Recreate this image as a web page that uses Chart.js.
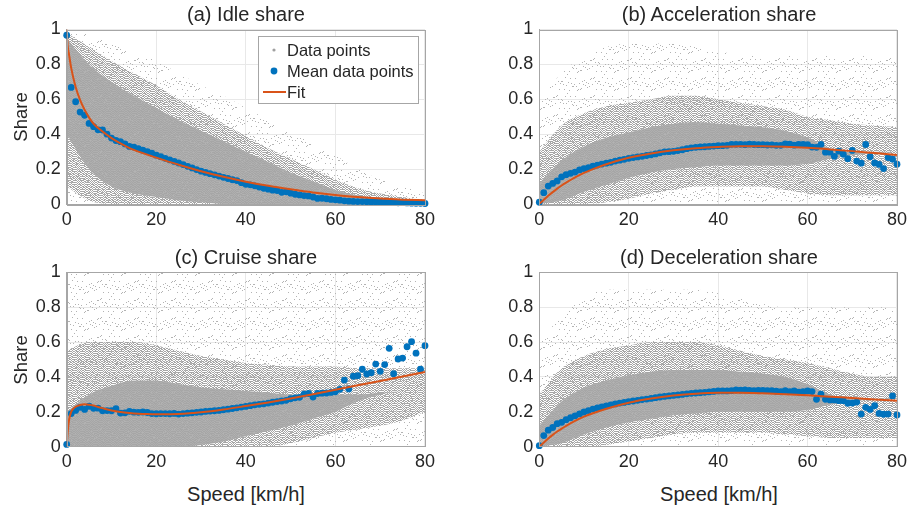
<!DOCTYPE html>
<html>
<head>
<meta charset="utf-8">
<script src="https://cdn.jsdelivr.net/npm/chart.js@4.4.1/dist/chart.umd.min.js"></script>
<style>
  body { margin: 0; background: #fff; font-family: "Liberation Sans", Arial, sans-serif; color: #262626; }
  #wrap { position: relative; width: 912px; height: 510px; overflow: hidden; }
  canvas { position: absolute; }
  .ttl { position: absolute; font-size: 20px; white-space: nowrap; transform: translate(-50%, -50%); }
  .ylab { position: absolute; font-size: 18.5px; white-space: nowrap; transform: translate(-50%, -50%) rotate(-90deg); }
  #legend { position: absolute; left: 258px; top: 36px; width: 161px; height: 68px; border: 1px solid #a6a6a6; background: #fff; box-sizing: border-box; }
  .li { position: absolute; left: 28px; font-size: 16.5px; white-space: nowrap; transform: translateY(-50%); }
</style>
</head>
<body>
<div id="wrap">
  <canvas id="chartIdle" width="440" height="240" style="left:0;top:0"></canvas>
  <canvas id="chartAccel" width="456" height="240" style="left:456px;top:0"></canvas>
  <canvas id="chartCruise" width="440" height="240" style="left:0;top:240px"></canvas>
  <canvas id="chartDecel" width="456" height="240" style="left:456px;top:240px"></canvas>

  <div class="ttl" style="left:246px;top:14px">(a) Idle share</div>
  <div class="ttl" style="left:719px;top:14px">(b) Acceleration share</div>
  <div class="ttl" style="left:246px;top:257px">(c) Cruise share</div>
  <div class="ttl" style="left:719px;top:257px">(d) Deceleration share</div>

  <div class="ylab" style="left:21px;top:117px">Share</div>
  <div class="ylab" style="left:21px;top:360px">Share</div>
  <div class="ttl" style="left:246px;top:494px">Speed [km/h]</div>
  <div class="ttl" style="left:719px;top:494px">Speed [km/h]</div>

  <div id="legend">
    <canvas id="legendMarks" width="30" height="66" style="left:0;top:0"></canvas>
    <div class="li" style="top:13px">Data points</div>
    <div class="li" style="top:34px">Mean data points</div>
    <div class="li" style="top:55px">Fit</div>
  </div>
</div>

<script>
// speed bins of the mean data points (km/h)
const speeds = [0,1,2,3,4,5,6,7,8,9,10,11,12,13,14,15,16,17,18,19,20,21,22,23,24,25,26,27,28,29,30,
  31,32,33,34,35,36,37,38,39,40,41,42,43,44,45,46,47,48,49,50,51,52,53,54,55,56,57,58,59,60,
  61,62,63,64,65,66,67,68,69,70,71,72,73,74,75,76,77,78,79,80];

// mean shares per speed bin
const idleMean = [0.967,0.668,0.586,0.527,0.508,0.462,0.443,0.425,0.424,0.400,0.378,0.364,0.357,0.344,0.330,0.326,0.317,0.308,0.300,0.291,
  0.280,0.271,0.262,0.253,0.244,0.235,0.226,0.216,0.207,0.197,0.188,0.181,0.174,0.167,0.160,0.153,0.146,0.139,0.134,0.122,
  0.113,0.110,0.104,0.097,0.090,0.085,0.079,0.077,0.067,0.070,0.062,0.056,0.052,0.048,0.046,0.040,0.032,0.033,0.030,0.026,
  0.024,0.022,0.018,0.016,0.015,0.014,0.014,0.013,0.012,0.012,0.010,0.009,0.008,0.008,0.007,0.012,0.006,0.005,0.004,0.004,0.003];
const accelMean = [0.010,0.065,0.103,0.118,0.132,0.156,0.168,0.176,0.183,0.195,0.203,0.208,0.217,0.223,0.229,0.234,0.239,0.246,0.251,0.256,
  0.262,0.266,0.270,0.273,0.278,0.282,0.287,0.293,0.299,0.300,0.302,0.306,0.311,0.317,0.322,0.325,0.327,0.328,0.330,0.332,
  0.334,0.334,0.336,0.342,0.342,0.342,0.340,0.343,0.341,0.340,0.340,0.338,0.339,0.336,0.336,0.344,0.343,0.337,0.342,0.342,
  0.340,0.326,0.325,0.341,0.297,0.297,0.273,0.303,0.285,0.260,0.307,0.246,0.234,0.341,0.271,0.235,0.227,0.203,0.266,0.257,0.228];
const cruiseMean = [0.013,0.190,0.208,0.226,0.214,0.232,0.220,0.221,0.206,0.207,0.206,0.218,0.193,0.194,0.203,0.198,0.197,0.199,0.196,0.190,
  0.189,0.190,0.190,0.189,0.191,0.187,0.190,0.192,0.194,0.197,0.199,0.202,0.204,0.206,0.208,0.212,0.215,0.219,0.223,0.227,
  0.231,0.235,0.240,0.243,0.246,0.250,0.255,0.259,0.262,0.266,0.275,0.280,0.283,0.302,0.305,0.285,0.305,0.307,0.308,0.311,
  0.315,0.329,0.382,0.331,0.404,0.407,0.444,0.417,0.424,0.474,0.432,0.471,0.564,0.419,0.503,0.508,0.573,0.602,0.536,0.444,0.579];
const decelMean = [0.006,0.064,0.095,0.110,0.132,0.140,0.155,0.166,0.177,0.188,0.199,0.207,0.216,0.222,0.228,0.234,0.240,0.245,0.250,0.254,
  0.259,0.262,0.266,0.270,0.273,0.277,0.281,0.285,0.288,0.291,0.294,0.297,0.300,0.303,0.306,0.308,0.310,0.312,0.314,0.317,
  0.320,0.320,0.320,0.321,0.325,0.324,0.325,0.323,0.322,0.323,0.323,0.321,0.322,0.318,0.315,0.322,0.316,0.320,0.313,0.315,
  0.320,0.316,0.272,0.302,0.272,0.268,0.268,0.264,0.264,0.249,0.250,0.256,0.187,0.226,0.214,0.235,0.191,0.186,0.187,0.291,0.182];

// fitted curves
const idleFitX = [0,0.25,0.5,1,2,3,4,5,6,8,10,12,15,20,25,30,35,40,45,50,55,60,65,70,75,80];
const idleFit = [1.0,0.9,0.86,0.78,0.67,0.595,0.54,0.495,0.46,0.415,0.378,0.348,0.31,0.266,0.225,0.188,0.156,0.128,0.104,0.084,0.066,0.052,0.04,0.031,0.025,0.021];
const fitX = [0,1,2,3,4,5,6,8,10,12,15,20,25,30,35,40,45,50,55,60,65,70,75,80];
const accelFit = [0,0.024,0.047,0.068,0.088,0.106,0.122,0.152,0.178,0.2,0.228,0.265,0.29,0.308,0.32,0.327,0.331,0.331,0.328,0.322,0.313,0.303,0.292,0.281];
const decelFit = [0,0.024,0.047,0.068,0.087,0.104,0.12,0.148,0.172,0.192,0.218,0.252,0.276,0.293,0.304,0.309,0.309,0.306,0.301,0.295,0.287,0.279,0.271,0.264];
const cruiseFitX = [0,0.25,0.5,1,1.5,2,3,4,5,6,7,8,10,12,14,16,18,20,22,25,28,30,35,40,45,50,55,60,65,70,75,80];
const cruiseFit = [0,0.09,0.15,0.2,0.218,0.229,0.239,0.243,0.241,0.236,0.228,0.221,0.208,0.199,0.193,0.189,0.187,0.186,0.186,0.188,0.193,0.197,0.213,0.233,0.254,0.277,0.301,0.327,0.352,0.377,0.402,0.428];

// extent of the raw data cloud (sparse / medium / dense zones), every 5 km/h
const cloudX = [0,5,10,15,20,25,30,35,40,45,50,55,60,65,70,75,80];
const idleSparseHi = [1,0.97,0.92,0.87,0.82,0.75,0.68,0.62,0.55,0.48,0.41,0.35,0.28,0.2,0.14,0.1,0.06];
const idleMidLo = [0.1,0.02,0,0,0,0,0,0,0,0,0,0,0,0,0,0,0];
const idleMidHi = [0.98,0.9,0.82,0.75,0.68,0.6,0.53,0.46,0.39,0.32,0.26,0.2,0.14,0.09,0.06,0.04,0.02];
const idleCoreLo = [0.4,0.2,0.1,0.06,0.04,0.02,0.01,0,0,0,0,0,0,0,0,0,0];
const idleCoreHi = [0.95,0.8,0.7,0.62,0.55,0.48,0.42,0.36,0.3,0.24,0.18,0.13,0.08,0.05,0.03,0.02,0.01];

const accelSparseHi = [0.6,0.75,0.85,0.9,0.92,0.92,0.92,0.9,0.88,0.85,0.85,0.85,0.85,0.85,0.85,0.85,0.85];
const accelMidLo = [0,0,0,0.01,0.03,0.06,0.08,0.1,0.1,0.1,0.1,0.08,0.06,0.05,0.05,0.05,0.05];
const accelMidHi = [0.3,0.45,0.52,0.56,0.58,0.6,0.62,0.62,0.6,0.58,0.56,0.54,0.5,0.48,0.46,0.45,0.44];
const accelCoreLo = [0,0.02,0.07,0.11,0.15,0.18,0.2,0.21,0.22,0.22,0.22,0.22,0.23,0.26,0.28,0.29,0.3];
const accelCoreHi = [0.12,0.25,0.33,0.38,0.41,0.44,0.46,0.47,0.46,0.45,0.44,0.42,0.38,0.32,0.3,0.3,0.3];

const cruiseSparseHi = [1,1,1,1,1,1,1,1,1,1,1,1,1,1,1,1,1];
const cruiseMidLo = [0,0,0,0,0,0,0,0,0,0,0.02,0.05,0.08,0.1,0.12,0.15,0.2];
const cruiseMidHi = [0.55,0.6,0.6,0.6,0.58,0.55,0.52,0.5,0.48,0.47,0.46,0.46,0.46,0.45,0.45,0.45,0.45];
const cruiseCoreLo = [0,0,0,0,0,0,0.01,0.03,0.06,0.09,0.12,0.16,0.2,0.26,0.3,0.32,0.34];
const cruiseCoreHi = [0.2,0.3,0.35,0.38,0.38,0.36,0.34,0.33,0.32,0.31,0.3,0.3,0.3,0.3,0.31,0.32,0.34];

const decelSparseHi = [0.6,0.75,0.85,0.9,0.9,0.9,0.9,0.9,0.88,0.85,0.82,0.8,0.8,0.8,0.8,0.8,0.8];
const decelMidLo = [0,0,0,0.01,0.03,0.05,0.07,0.08,0.08,0.08,0.08,0.07,0.06,0.05,0.05,0.05,0.05];
const decelMidHi = [0.3,0.45,0.52,0.56,0.58,0.6,0.6,0.6,0.58,0.55,0.52,0.5,0.48,0.45,0.42,0.4,0.4];
const decelCoreLo = [0,0.02,0.07,0.11,0.14,0.16,0.18,0.19,0.2,0.2,0.2,0.2,0.21,0.24,0.26,0.27,0.28];
const decelCoreHi = [0.12,0.26,0.34,0.38,0.41,0.43,0.44,0.44,0.44,0.43,0.42,0.4,0.36,0.3,0.28,0.27,0.28];

const FONT = '"Liberation Sans", Arial, sans-serif';
const GRAY = '#a0a0a0';
const BLUE = '#0072bd';
const ORANGE = '#d95319';

// repeating speckle tile (fixed cubic residue layout, no randomness) to fake the scatter cloud
function dotPattern(size, mult, offsets, color) {
    const tile = document.createElement('canvas');
    tile.width = size;
    tile.height = size;
    const g = tile.getContext('2d');
    g.fillStyle = color;
    for (let i = 0; i < size; i++) {
        offsets.forEach(o => g.fillRect(i, (i * i * i * mult + i * 5 + o) % size, 1, 1));
    }
    return g.createPattern(tile, 'repeat');
}

const sparseFill = dotPattern(37, 3, [0, 19], '#b3b3b3');
const midFill = dotPattern(13, 5, [0, 2, 4, 5, 7, 9, 11], '#a6a6a6');
const coreFill = 'rgba(166,166,166,0.9)';

function pts(xs, ys) {
    return xs.map((x, i) => ({ x, y: ys[i] }));
}

function hidden(xs, ys) {
    return { data: pts(xs, ys), borderColor: 'transparent', borderWidth: 0, pointRadius: 0, fill: false, order: 10, cubicInterpolationMode: 'monotone' };
}

function band(xs, ys, fill, pattern) {
    return { data: pts(xs, ys), borderColor: 'transparent', borderWidth: 0, pointRadius: 0, fill, backgroundColor: pattern, order: 10, cubicInterpolationMode: 'monotone' };
}

function buildDatasets(sparseHi, midLo, midHi, coreLo, coreHi, meanVals, fx, fy) {
    return [
        band(cloudX, sparseHi, 'origin', sparseFill),
        hidden(cloudX, midLo),
        band(cloudX, midHi, '-1', midFill),
        hidden(cloudX, coreLo),
        band(cloudX, coreHi, '-1', coreFill),
        { label: 'Mean data points', data: pts(speeds, meanVals), showLine: false, pointRadius: 3.4, pointBackgroundColor: BLUE, pointBorderWidth: 0, order: 2, clip: false },
        { label: 'Fit', data: pts(fx, fy), borderColor: ORANGE, borderWidth: 2, pointRadius: 0, fill: false, order: 1, cubicInterpolationMode: 'monotone' }
    ];
}

const boxPlugin = {
    id: 'box',
    afterDraw(chart) {
        const { ctx, chartArea: a } = chart;
        ctx.save();
        ctx.strokeStyle = '#a6a6a6';
        ctx.lineWidth = 1;
        ctx.strokeRect(Math.round(a.left) + 0.5, Math.round(a.top) + 0.5, Math.round(a.right - a.left), Math.round(a.bottom - a.top));
        ctx.restore();
    }
};

function makeChart(id, datasets, yWidth, xHeight, padTop, padRight) {
    const tickFont = { family: FONT, size: 18 };
    return new Chart(document.getElementById(id), {
        type: 'line',
        data: { datasets },
        options: {
            responsive: false,
            animation: false,
            devicePixelRatio: 1,
            layout: { padding: { top: padTop, right: padRight, left: 0, bottom: 0 } },
            plugins: { legend: { display: false }, tooltip: { enabled: false } },
            scales: {
                x: {
                    type: 'linear', min: 0, max: 80,
                    ticks: { stepSize: 20, padding: 5, color: '#262626', font: tickFont, maxRotation: 0 },
                    grid: { color: '#e8e8e8', drawTicks: false },
                    border: { color: '#a6a6a6' },
                    afterFit: s => { s.height = xHeight; }
                },
                y: {
                    min: 0, max: 1,
                    ticks: { stepSize: 0.2, padding: 6, color: '#262626', font: tickFont, callback: v => String(+v.toFixed(1)) },
                    grid: { color: '#e8e8e8', drawTicks: false },
                    border: { color: '#a6a6a6' },
                    afterFit: s => { s.width = yWidth; }
                }
            }
        },
        plugins: [boxPlugin]
    });
}

makeChart('chartIdle', buildDatasets(idleSparseHi, idleMidLo, idleMidHi, idleCoreLo, idleCoreHi, idleMean, idleFitX, idleFit), 66.7, 36, 29.5, 14);
makeChart('chartAccel', buildDatasets(accelSparseHi, accelMidLo, accelMidHi, accelCoreLo, accelCoreHi, accelMean, fitX, accelFit), 83.3, 36, 29.5, 12.7);
makeChart('chartCruise', buildDatasets(cruiseSparseHi, cruiseMidLo, cruiseMidHi, cruiseCoreLo, cruiseCoreHi, cruiseMean, cruiseFitX, cruiseFit), 66.7, 33.3, 32.3, 14);
makeChart('chartDecel', buildDatasets(decelSparseHi, decelMidLo, decelMidHi, decelCoreLo, decelCoreHi, decelMean, fitX, decelFit), 83.3, 33.3, 32.3, 12.7);

// legend markers
const lg = document.getElementById('legendMarks').getContext('2d');
lg.fillStyle = GRAY;
lg.beginPath(); lg.arc(15, 13, 1.6, 0, Math.PI * 2); lg.fill();
lg.fillStyle = BLUE;
lg.beginPath(); lg.arc(15, 34, 3.4, 0, Math.PI * 2); lg.fill();
lg.strokeStyle = ORANGE;
lg.lineWidth = 2;
lg.beginPath(); lg.moveTo(4, 55); lg.lineTo(27, 55); lg.stroke();
</script>
</body>
</html>
